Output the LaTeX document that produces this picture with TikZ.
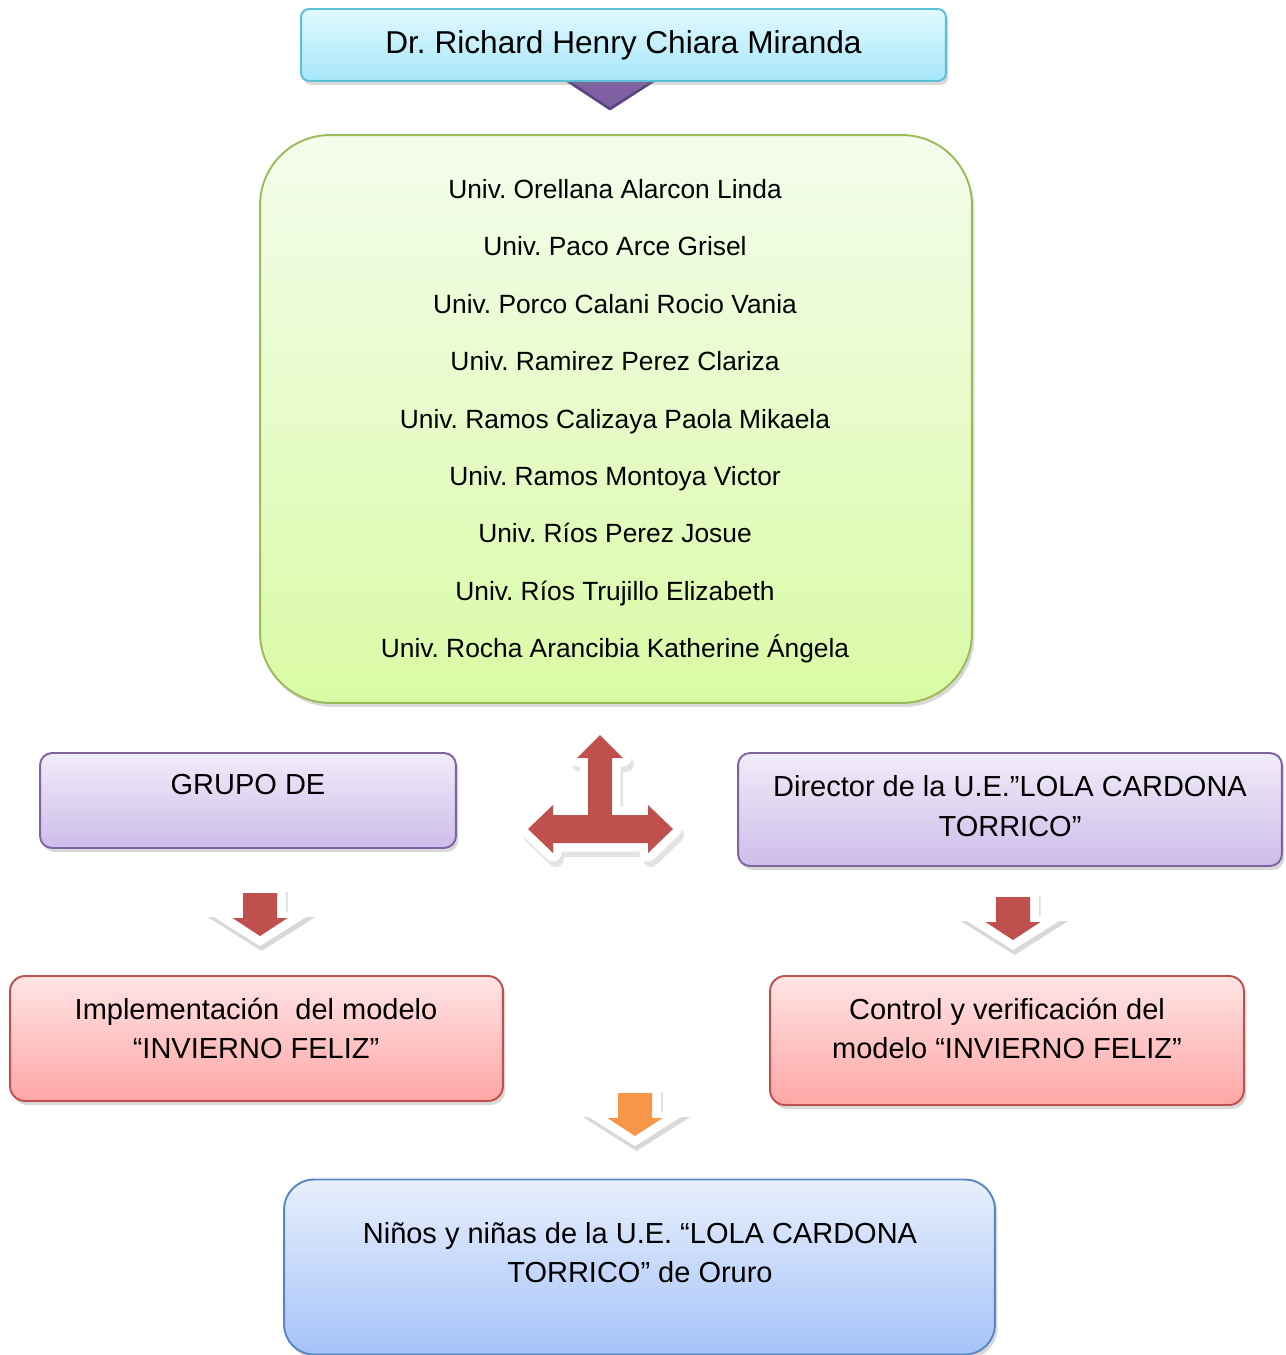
\documentclass[tikz,border=0pt]{standalone}
\usepackage{fontspec}
\setmainfont{Liberation Sans}
\usetikzlibrary{shadows}
\frenchspacing

\definecolor{cyanline}{HTML}{5DBFD6}
\definecolor{cyantop}{HTML}{E2F9FF}
\definecolor{cyanbot}{HTML}{A6E7FA}
\definecolor{greenline}{HTML}{9BBB59}
\definecolor{greentop}{HTML}{F4FCEC}
\definecolor{greenbot}{HTML}{D9FBA5}
\definecolor{purpleline}{HTML}{8064A2}
\definecolor{purpletop}{HTML}{F1ECF9}
\definecolor{purplebot}{HTML}{CDBDEA}
\definecolor{redline}{HTML}{C0504D}
\definecolor{redtop}{HTML}{FFE4E4}
\definecolor{redbot}{HTML}{FFA6A6}
\definecolor{blueline}{HTML}{5B86C4}
\definecolor{bluetop}{HTML}{E8EFFC}
\definecolor{bluebot}{HTML}{A5C3F9}
\definecolor{tripurple}{HTML}{7E60A3}
\definecolor{tripurpledark}{HTML}{5A4580}
\definecolor{arrowred}{HTML}{C0504D}
\definecolor{arroworange}{HTML}{F79646}

\tikzset{
    box/.style={draw, line width=1.1pt, inner sep=0pt,
        drop shadow={shadow xshift=0.05cm, shadow yshift=-0.08cm, opacity=0.3}},
    cyanbox/.style={box, draw=cyanline, top color=cyantop, bottom color=cyanbot},
    greenbox/.style={box, draw=greenline, top color=greentop, bottom color=greenbot},
    purplebox/.style={box, draw=purpleline, top color=purpletop, bottom color=purplebot},
    redbox/.style={box, draw=redline, top color=redtop, bottom color=redbot},
    bluebox/.style={box, draw=blueline, top color=bluetop, bottom color=bluebot},
    titletext/.style={font=\fontsize{18}{22}\selectfont},
    member/.style={anchor=base, font=\fontsize{15}{18}\selectfont},
    boxtext/.style={align=center, font=\fontsize{16.5}{22.6}\selectfont},
}

\begin{document}
\begin{tikzpicture}[x=0.02cm, y=-0.02cm]
    \useasboundingbox (0,0) rectangle (1285,1355);

    % triangle under the top box
    \draw[fill=tripurple, draw=tripurpledark, line width=1.5pt, line join=round]
        (566,80) -- (655,80) -- (610,109) -- cycle;

    \node[cyanbox, minimum width=12.9cm, minimum height=1.44cm, rounded corners=0.16cm,
        titletext] (director) at (623.5,45) {Dr. Richard Henry Chiara Miranda};

    % students
    \node[greenbox, minimum width=14.24cm, minimum height=11.36cm, rounded corners=1.4cm]
        (students) at (616,419) {};
    \foreach \name [count=\i] in {Orellana Alarcon Linda, Paco Arce Grisel,
        Porco Calani Rocio Vania, Ramirez Perez Clariza, Ramos Calizaya Paola Mikaela,
        Ramos Montoya Victor, Ríos Perez Josue, Ríos Trujillo Elizabeth,
        Rocha Arancibia Katherine Ángela}
        \node[member] (m\i) at (615,{198.5+57.4*(\i-1)}) {Univ. \name};

    % middle row
    \node[purplebox, minimum width=8.32cm, minimum height=1.9cm, rounded corners=0.24cm]
        (grupo) at (248,800.5) {};
    \node[boxtext] (grupoText) at (248,785) {GRUPO DE};
    \node[purplebox, minimum width=10.88cm, minimum height=2.26cm, rounded corners=0.24cm]
        (ue) at (1010,809.5) {};
    \node[boxtext] (ueText) at (1010,806) {Director de la U.E.”LOLA CARDONA\\TORRICO”};

    % three way arrow
    \draw[gray, fill=gray, opacity=0.22, line width=0.32cm, line join=round, shift={(3,6)}]
        (600,735) -- (623,758) -- (612,758) -- (612,815) -- (648,815) -- (648,805)
        -- (673,829) -- (648,853) -- (648,843) -- (553,843) -- (553,853) -- (528,829)
        -- (553,805) -- (553,815) -- (588,815) -- (588,758) -- (577,758) -- cycle;
    \fill[arrowred, preaction={draw=white, line width=0.34cm, line join=round}]
        (600,735) -- (623,758) -- (612,758) -- (612,815) -- (648,815) -- (648,805)
        -- (673,829) -- (648,853) -- (648,843) -- (553,843) -- (553,853) -- (528,829)
        -- (553,805) -- (553,815) -- (588,815) -- (588,758) -- (577,758) -- cycle;

    % down arrows
    \foreach \x/\y/\c in {260/893/arrowred, 1013/897/arrowred, 635/1093/arroworange} {
        \fill[white, drop shadow={shadow xshift=0.03cm, shadow yshift=-0.1cm, opacity=0.3}]
            (\x-26,\y-6) -- (\x+26,\y-6) -- (\x+26,\y+19) -- (\x+54,\y+19)
            -- (\x,\y+53) -- (\x-54,\y+19) -- (\x-26,\y+19) -- cycle;
        \fill[\c] (\x-17,\y) -- (\x+17,\y) -- (\x+17,\y+25) -- (\x+27.5,\y+25)
            -- (\x,\y+43) -- (\x-27.5,\y+25) -- (\x-17,\y+25) -- cycle;
    }

    % lower row
    \node[redbox, minimum width=9.86cm, minimum height=2.5cm, rounded corners=0.3cm]
        (impl) at (256.5,1038.5) {};
    \node[boxtext] (implText) at (256,1028.5)
        {Implementación\ \ del modelo\\“INVIERNO FELIZ”};
    \node[redbox, minimum width=9.48cm, minimum height=2.58cm, rounded corners=0.3cm]
        (control) at (1007,1040.5) {};
    \node[boxtext] (controlText) at (1007,1028.5)
        {Control y verificación del\\modelo “INVIERNO FELIZ”};

    \node[bluebox, minimum width=14.22cm, minimum height=3.5cm, rounded corners=0.6cm]
        (kids) at (639.5,1267) {};
    \node[boxtext] (kidsText) at (640,1252.5)
        {Niños y niñas de la U.E. “LOLA CARDONA\\TORRICO” de Oruro};
\end{tikzpicture}
\end{document}
